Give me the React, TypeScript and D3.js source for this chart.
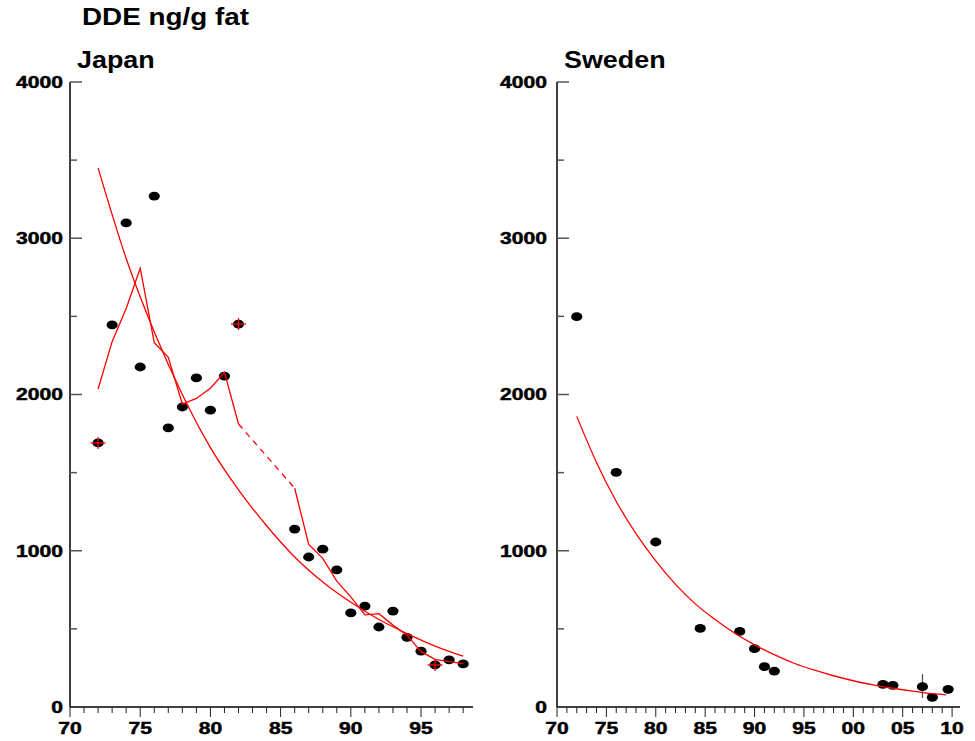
import React from "react";
import * as d3 from "d3";

// ---------- data ----------
const japanYears = [72, 73, 74, 75, 76, 77, 78, 79, 80, 81, 82, 86, 87, 88, 89, 90, 91, 92, 93, 94, 95, 96, 97, 98];
const japanValues = [1690, 2445, 3098, 2176, 3270, 1786, 1920, 2106, 1900, 2118, 2451, 1139, 960, 1010, 877, 602, 646, 512, 614, 446, 357, 269, 301, 276];
const japanMarkedYears = [72, 82, 96];

// running mean line, two solid parts joined by a dashed gap
const japanMeanYearsA = [72, 73, 74, 75, 76, 77, 78, 79, 80, 81, 82];
const japanMeanValuesA = [2035, 2338, 2551, 2808, 2332, 2238, 1939, 1975, 2040, 2142, 1811];
const japanMeanYearsB = [86, 87, 88, 89, 90, 91, 92, 93, 94, 95, 96, 97, 98];
const japanMeanValuesB = [1400, 1041, 951, 806, 705, 590, 597, 524, 460, 354, 305, 290, 278];

// fitted decay curve
const japanFitYears = [72, 74, 76, 78, 80, 82, 84, 86, 88, 90, 92, 94, 96, 98];
const japanFitValues = [3450, 2870, 2400, 2000, 1660, 1390, 1160, 960, 800, 670, 560, 470, 390, 325];

const swedenYears = [72, 76, 80, 84.5, 88.5, 90, 91, 92, 103, 104, 107, 108, 109.6];
const swedenValues = [2498, 1502, 1056, 503, 484, 373, 258, 230, 145, 139, 130, 62, 113];
const swedenErrYear = 107;
const swedenErrRange = [58, 211];

const swedenFitYears = [72, 74, 76, 78, 80, 82, 84, 86, 88, 90, 92, 94, 96, 98, 100, 102, 104, 106, 108, 109.4];
const swedenFitValues = [1860, 1565, 1315, 1110, 935, 785, 660, 560, 472, 398, 335, 280, 237, 200, 168, 142, 120, 101, 85, 78];

const yTickValues = [0, 500, 1000, 1500, 2000, 2500, 3000, 3500, 4000];
const yLabelValues = [0, 1000, 2000, 3000, 4000];

const mainTitle = "DDE ng/g fat";
const panelTitles = ["Japan", "Sweden"];

// ---------- drawing ----------
const FONT = "'Liberation Sans', Arial, Helvetica, sans-serif";
const RED = "#ff0000";

type Pt = [number, number];
const zip = (xs: number[], ys: number[]): Pt[] => xs.map((x, i) => [x, ys[i]]);

function StretchText(props: {
  x: number;
  y: number;
  size: number;
  sx: number;
  anchor?: string;
  heavy?: number;
  children: string;
}) {
  const { x, y, size, sx, anchor = "start", heavy = 0, children } = props;
  return (
    <text
      transform={`translate(${x},${y}) scale(${sx},1)`}
      fontFamily={FONT}
      fontWeight="bold"
      fontSize={size}
      textAnchor={anchor}
      fill="#000"
      stroke={heavy > 0 ? "#000" : "none"}
      strokeWidth={heavy}
    >
      {children}
    </text>
  );
}

function Panel(props: {
  left: number;
  right: number;
  xMax: number;
  tickMax: number;
  title: string;
  yLabelGap: number;
  xLabel: (v: number) => string;
  children: (x: d3.ScaleLinear<number, number>, y: d3.ScaleLinear<number, number>) => React.ReactNode;
}) {
  const { left, right, xMax, tickMax, title, yLabelGap, xLabel } = props;
  const x = d3.scaleLinear().domain([70, xMax]).range([left, right]);
  const y = d3.scaleLinear().domain([0, 4000]).range([707, 82]);
  const xTicks = d3.range(70, tickMax + 1, 1);
  return (
    <g>
      <StretchText x={left + 7} y={68} size={23} sx={1.17}>
        {title}
      </StretchText>
      {/* y axis */}
      <line x1={left} x2={left} y1={y(4000)} y2={y(0)} stroke="#000" strokeWidth={1.5} />
      {yTickValues
        .filter((v) => v > 0)
        .map((v) => (
          <line
            key={v}
            x1={left}
            x2={left + (v % 1000 === 0 ? 12 : 7)}
            y1={y(v)}
            y2={y(v)}
            stroke="#555"
            strokeWidth={1.5}
          />
        ))}
      {yLabelValues.map((v) => (
        <StretchText key={v} x={left - yLabelGap} y={y(v) + 5.8} size={16} sx={1.32} anchor="end" heavy={0.45}>
          {String(v)}
        </StretchText>
      ))}
      {/* x axis */}
      <line x1={left} x2={right} y1={y(0)} y2={y(0)} stroke="#000" strokeWidth={1.5} />
      {xTicks.map((t) => (
        <line
          key={t}
          x1={x(t)}
          x2={x(t)}
          y1={y(0)}
          y2={y(0) + (t % 5 === 0 ? 10 : 6)}
          stroke="#222"
          strokeWidth={1}
        />
      ))}
      {xTicks
        .filter((t) => t % 5 === 0)
        .map((t) => (
          <StretchText key={t} x={x(t)} y={734} size={16} sx={1.32} anchor="middle" heavy={0.45}>
            {xLabel(t)}
          </StretchText>
        ))}
      {props.children(x, y)}
    </g>
  );
}

export default function App() {
  const lineGen = (x: d3.ScaleLinear<number, number>, y: d3.ScaleLinear<number, number>) =>
    d3
      .line<Pt>()
      .x((d) => x(d[0]))
      .y((d) => y(d[1]));
  const smoothGen = (x: d3.ScaleLinear<number, number>, y: d3.ScaleLinear<number, number>) =>
    d3
      .line<Pt>()
      .x((d) => x(d[0]))
      .y((d) => y(d[1]))
      .curve(d3.curveMonotoneX);

  return (
    <svg
      width={975}
      height={741}
      style={{ position: "absolute", left: 0, top: 0, background: "#fff" }}
    >
      <rect x={0} y={0} width={975} height={741} fill="#fff" />
      <StretchText x={82} y={25} size={24} sx={1.16}>
        {mainTitle}
      </StretchText>

      <Panel left={70} right={473} xMax={98.7} tickMax={98} title={panelTitles[0]} yLabelGap={7} xLabel={(t) => String(t)}>
        {(x, y) => {
          const ln = lineGen(x, y);
          const sm = smoothGen(x, y);
          const meanA = zip(japanMeanYearsA, japanMeanValuesA);
          const meanB = zip(japanMeanYearsB, japanMeanValuesB);
          const gap: Pt[] = [meanA[meanA.length - 1], meanB[0]];
          return (
            <g>
              {japanYears.map((yr, i) => (
                <ellipse key={yr} cx={x(yr)} cy={y(japanValues[i])} rx={5.6} ry={4.4} fill="#000" />
              ))}
              <path d={sm(zip(japanFitYears, japanFitValues)) || ""} fill="none" stroke={RED} strokeWidth={1.3} />
              <path d={ln(meanA) || ""} fill="none" stroke={RED} strokeWidth={1.3} />
              <path d={ln(gap) || ""} fill="none" stroke={RED} strokeWidth={1.3} strokeDasharray="6,5" />
              <path d={ln(meanB) || ""} fill="none" stroke={RED} strokeWidth={1.3} />
              {japanMarkedYears.map((yr) => {
                const v = japanValues[japanYears.indexOf(yr)];
                const cx = x(yr);
                const cy = y(v);
                return (
                  <g key={yr}>
                    <line x1={cx - 7.5} x2={cx + 7.5} y1={cy} y2={cy} stroke={RED} strokeWidth={1.3} />
                    <line x1={cx} x2={cx} y1={cy - 6} y2={cy + 6} stroke={RED} strokeWidth={1.3} />
                  </g>
                );
              })}
            </g>
          );
        }}
      </Panel>

      <Panel
        left={557}
        right={960}
        xMax={110.8}
        tickMax={110}
        title={panelTitles[1]}
        yLabelGap={10}
        xLabel={(t) => String(t % 100).padStart(2, "0")}
      >
        {(x, y) => {
          const sm = smoothGen(x, y);
          return (
            <g>
              <line
                x1={x(swedenErrYear)}
                x2={x(swedenErrYear)}
                y1={y(swedenErrRange[1])}
                y2={y(swedenErrRange[0])}
                stroke="#555"
                strokeWidth={1.3}
              />
              {swedenYears.map((yr, i) => (
                <ellipse key={yr} cx={x(yr)} cy={y(swedenValues[i])} rx={5.6} ry={4.4} fill="#000" />
              ))}
              <path d={sm(zip(swedenFitYears, swedenFitValues)) || ""} fill="none" stroke={RED} strokeWidth={1.3} />
            </g>
          );
        }}
      </Panel>
    </svg>
  );
}
